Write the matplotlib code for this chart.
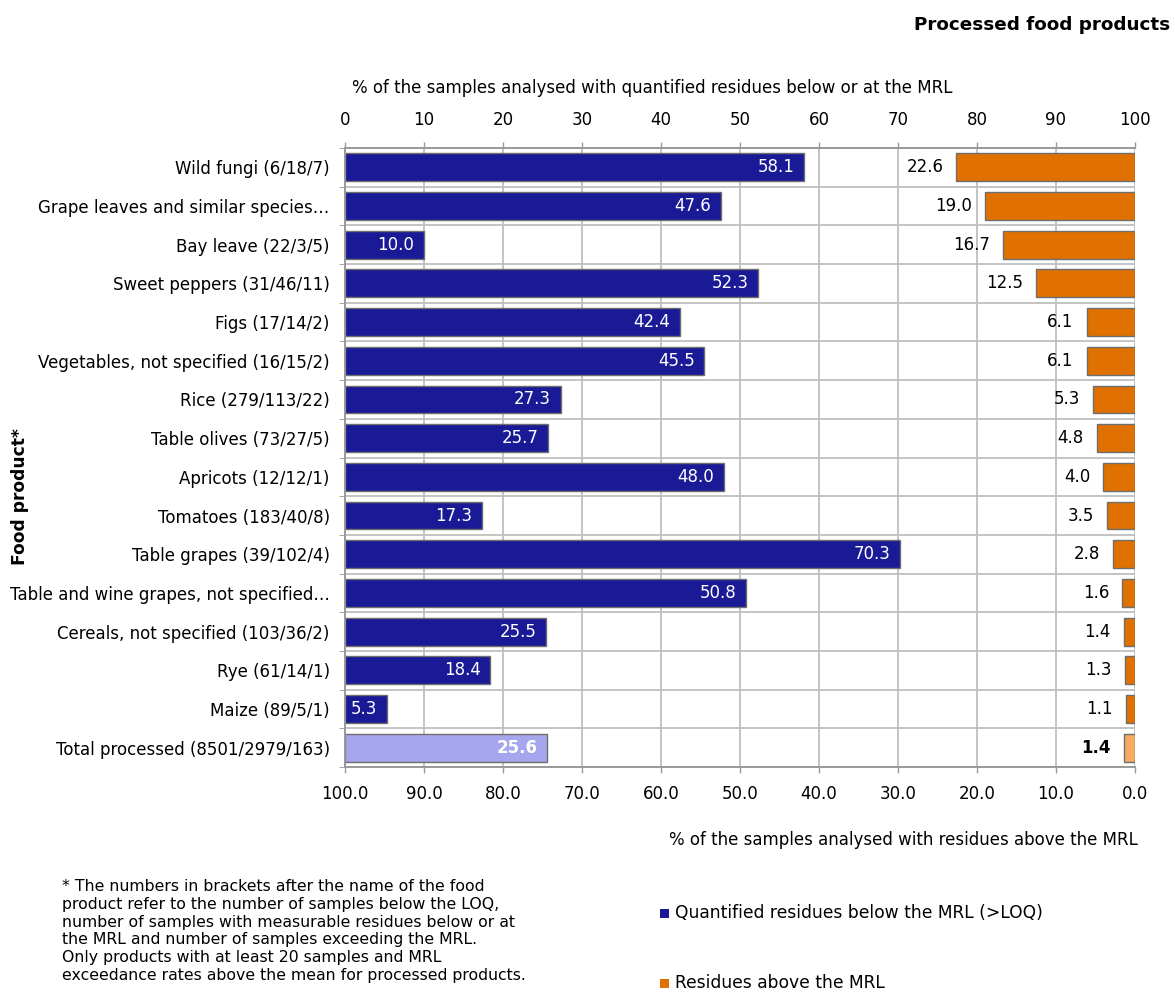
import matplotlib
matplotlib.use("Agg")
import matplotlib.pyplot as plt
from matplotlib.patches import Rectangle

categories = [
    "Wild fungi (6/18/7)",
    "Grape leaves and similar species…",
    "Bay leave (22/3/5)",
    "Sweet peppers (31/46/11)",
    "Figs (17/14/2)",
    "Vegetables, not specified (16/15/2)",
    "Rice (279/113/22)",
    "Table olives (73/27/5)",
    "Apricots (12/12/1)",
    "Tomatoes (183/40/8)",
    "Table grapes (39/102/4)",
    "Table and wine grapes, not specified…",
    "Cereals, not specified (103/36/2)",
    "Rye (61/14/1)",
    "Maize (89/5/1)",
    "Total processed (8501/2979/163)",
]
below_mrl = [58.1, 47.6, 10.0, 52.3, 42.4, 45.5, 27.3, 25.7, 48.0, 17.3, 70.3, 50.8, 25.5, 18.4, 5.3, 25.6]
above_mrl = [22.6, 19.0, 16.7, 12.5, 6.1, 6.1, 5.3, 4.8, 4.0, 3.5, 2.8, 1.6, 1.4, 1.3, 1.1, 1.4]
top_ticks = [0, 10, 20, 30, 40, 50, 60, 70, 80, 90, 100]
bottom_ticks = [100, 90, 80, 70, 60, 50, 40, 30, 20, 10, 0]

BLUE = "#1a1a96"
BLUE_LIGHT = "#a6a6ee"
ORANGE = "#e07000"
ORANGE_LIGHT = "#f7aa62"
EDGE = "#6e6e6e"
GRID = "#bfbfbf"

plt.rcParams['font.family'] = ['DejaVu Sans']
FS = 12

fig = plt.figure(figsize=(11.75, 9.98), dpi=100)
ax = fig.add_axes([345/1175, 1-767/998, (1135-345)/1175, (767-148)/998])
ax2 = ax.twiny()

n = len(categories)
ypos = list(range(n))
blue_colors = [BLUE] * (n - 1) + [BLUE_LIGHT]
orange_colors = [ORANGE] * (n - 1) + [ORANGE_LIGHT]

h = 0.72
ax.barh(ypos, below_mrl, height=h, color=blue_colors, edgecolor=EDGE, linewidth=1, zorder=3)
ax2.barh(ypos, above_mrl, height=h, color=orange_colors, edgecolor=EDGE, linewidth=1, zorder=3)

ax.set_xlim(0, 100)
ax2.set_xlim(100, 0)
ax.set_ylim(n - 0.5, -0.5)
ax2.set_ylim(n - 0.5, -0.5)

ax.xaxis.tick_top()
ax.xaxis.set_label_position("top")
ax.set_xticks(top_ticks)
ax.set_xticklabels([str(t) for t in top_ticks])
ax2.xaxis.tick_bottom()
ax2.xaxis.set_label_position("bottom")
ax2.set_xticks(bottom_ticks)
ax2.set_xticklabels([f"{t:.1f}" for t in bottom_ticks])

ax.tick_params(axis='x', which='both', length=4, width=1, color="#999999", pad=10, labelsize=FS)
ax2.tick_params(axis='x', which='both', length=4, width=1, color="#999999", pad=9, labelsize=FS)

ax.set_yticks(ypos)
ax.set_yticklabels(categories, fontsize=FS)
ax.tick_params(axis='y', length=0, pad=11)
ax.set_yticks([i + 0.5 for i in range(-1, n)], minor=True)
ax.tick_params(axis='y', which='minor', length=4, color="#999999")

ax.grid(axis='x', color=GRID, linewidth=1.3, zorder=0)
ax.grid(axis='y', which='minor', color=GRID, linewidth=1.3, zorder=0)
ax.set_axisbelow(True)
for sp in list(ax.spines.values()) + list(ax2.spines.values()):
    sp.set_color("#999999")
    sp.set_linewidth(1.2)
ax.spines['right'].set_visible(False)
ax2.spines['right'].set_visible(False)

for i, v in enumerate(below_mrl):
    bold = (i == n - 1)
    ax.annotate(f"{v:.1f}", xy=(v, i), xytext=(-7, 0), textcoords="offset points",
                ha="right", va="center", color="white", fontsize=FS,
                fontweight="bold" if bold else "normal", zorder=5)
for i, v in enumerate(above_mrl):
    bold = (i == n - 1)
    ax2.annotate(f"{v:.1f}", xy=(v, i), xytext=(-9.5, 0), textcoords="offset points",
                 ha="right", va="center", color="black", fontsize=FS,
                 fontweight="bold" if bold else "normal", zorder=5,
                 annotation_clip=False)

fig.text(1170/1175, 1-25/998, "Processed food products", ha="right", va="center",
         fontsize=13.2, fontweight="bold")
fig.text(652/1175, 1-88/998, "% of the samples analysed with quantified residues below or at the MRL",
         ha="center", va="center", fontsize=FS)
fig.text(1138/1175, 1-840/998, "% of the samples analysed with residues above the MRL",
         ha="right", va="center", fontsize=FS)
fig.text(20/1175, 1-497/998, "Food product*", rotation=90, ha="center", va="center",
         fontsize=12.3, fontweight="bold")

footnote = ("* The numbers in brackets after the name of the food\n"
            "product refer to the number of samples below the LOQ,\n"
            "number of samples with measurable residues below or at\n"
            "the MRL and number of samples exceeding the MRL.\n"
            "Only products with at least 20 samples and MRL\n"
            "exceedance rates above the mean for processed products.")
fig.text(62/1175, 1-879/998, footnote, ha="left", va="top", fontsize=11.3, linespacing=1.23)

fig.patches.append(Rectangle((660/1175, 1-918/998), 9/1175, 9/998, transform=fig.transFigure,
                             facecolor=BLUE, edgecolor="none", figure=fig))
fig.text(675/1175, 1-913/998, "Quantified residues below the MRL (>LOQ)", ha="left", va="center", fontsize=12.3)
fig.patches.append(Rectangle((660/1175, 1-988/998), 9/1175, 9/998, transform=fig.transFigure,
                             facecolor=ORANGE, edgecolor="none", figure=fig))
fig.text(675/1175, 1-983/998, "Residues above the MRL", ha="left", va="center", fontsize=12.3)

fig.savefig("out.png", dpi=100)
